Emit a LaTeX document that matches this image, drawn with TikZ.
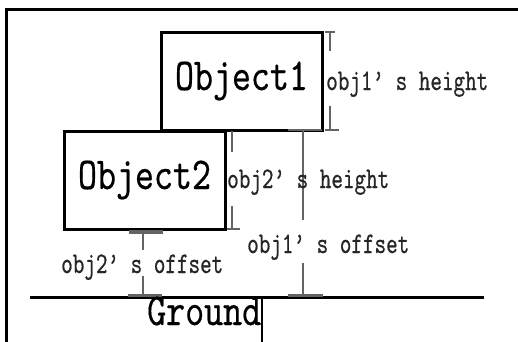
\documentclass[tikz,border=0pt]{standalone}
\usepackage{fontspec}
\newfontfamily\figfont[FakeStretch=0.79, FakeBold=0.35]{lmmono10-regular.otf}
\newfontfamily\dimfont[FakeStretch=0.735, FakeBold=0.5]{lmmono10-regular.otf}
\usetikzlibrary{calc}
\definecolor{dimgray}{RGB}{100,100,100}
\tikzset{
  objbox/.style={draw, line width=3pt, fill=white, outer sep=0pt, inner sep=0pt,
    minimum width=161pt, minimum height=98pt,
    font=\figfont\fontsize{45.8}{46}\selectfont},
  dimlabel/.style={inner sep=0pt, anchor=base west, text=black!85,
    font=\dimfont\fontsize{30}{30}\selectfont},
  bigtext/.style={inner sep=0pt, anchor=base west,
    font=\figfont\fontsize{45.8}{46}\selectfont},
  dimline/.style={draw=dimgray, line width=2.2pt},
  dimbar/.style={draw=dimgray, line width=3.5pt},
  frameline/.style={draw, line width=3pt},
}
\begin{document}
\begin{tikzpicture}[x=1pt, y=-1pt]
\useasboundingbox (0,0) rectangle (518,341);

% outer frame
\draw[frameline] (6,345) -- (6,9) -- (522,9);

% ground
\coordinate (gl) at (30,297);
\coordinate (gr) at (484,297);
\draw[frameline] (gl) -- (gr);
\coordinate (gt) at (262,297);
\draw[line width=2pt] (gt) -- (262,345);

% the two objects
\node[objbox] (o2) at (144.5,180) {Object2};
\node[objbox] (o1) at (241.5,81) {Object1};

% obj1's height
\coordinate (h1t) at ($(o1.north east)+(8,0)$);
\coordinate (h1b) at ($(o1.south east)+(8,0)$);
\draw[dimline] ($(h1t)+(-5,0)$) -- ($(h1t)+(5,0)$);
\draw[dimline] (h1t) -- ++(0,19);
\draw[dimline] (h1b) -- ++(0,-24);
\draw[dimline] ($(h1b)+(-5,0)$) -- ($(h1b)+(9,0)$);

% obj2's height
\coordinate (h2t) at ($(o2.north east)+(7,0)$);
\coordinate (h2b) at ($(o2.south east)+(7,0)$);
\draw[dimline] (h2t) -- ++(0,21);
\draw[dimline] (h2b) -- ++(0,-23);
\draw[dimline] ($(h2b)+(-5,0)$) -- ($(h2b)+(8,0)$);

% obj1's offset
\coordinate (f1t) at ($(o1.south east)+(-19,0)$);
\coordinate (f1b) at ($(f1t |- gl)+(0,-1.5)$);
\draw[dimline] ($(f1t)+(-15,0)$) -- ($(f1t)+(19,0)$);
\draw[dimline] (f1t) -- ++(0,90);
\draw[dimline] (f1b) -- ++(0,-33);
\draw[dimbar] ($(f1b)+(-15,0)$) -- ($(f1b)+(20,0)$);

% obj2's offset
\coordinate (f2t) at ($(o2.south)+(-1.5,3)$);
\coordinate (f2b) at ($(f2t |- gl)+(0,-1.5)$);
\draw[dimbar] ($(f2t)+(-14,0)$) -- ($(f2t)+(20,0)$);
\draw[dimline] (f2t) -- ++(0,18);
\draw[dimline] (f2b) -- ++(0,-20);
\draw[dimbar] ($(f2b)+(-15,0)$) -- ($(f2b)+(19,0)$);

% labels
\node[dimlabel] (l1h) at (326,90) {obj1’\hspace{11.6pt}s height};
\node[dimlabel] (l2h) at (227,188) {obj2’\hspace{11.6pt}s height};
\node[dimlabel] (l1o) at (247,253) {obj1’\hspace{11.6pt}s offset};
\node[dimlabel] (l2o) at (61,273) {obj2’\hspace{11.6pt}s offset};
\node[bigtext] (gnd) at (147,325) {Ground};
\end{tikzpicture}
\end{document}
